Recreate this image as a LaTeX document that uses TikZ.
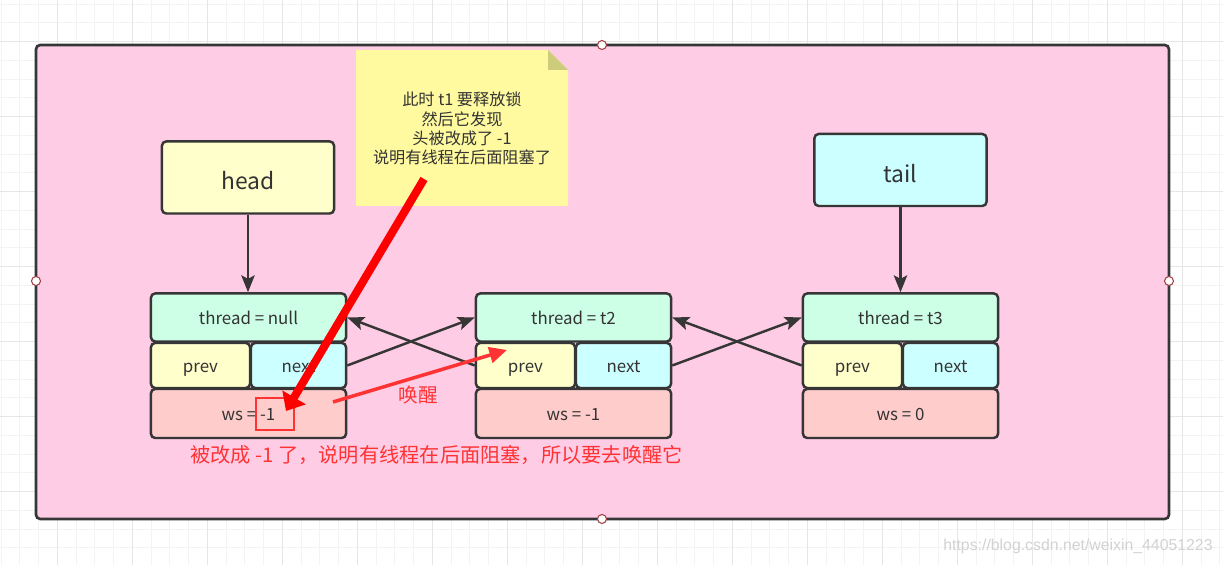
\documentclass[tikz,border=0pt]{standalone}
\usepackage{fontspec}
\usepackage{xcolor}
\setmainfont{Noto Sans CJK SC}
\newfontfamily\wmfont{Liberation Sans}
\usetikzlibrary{arrows.meta, calc}

\definecolor{pinkbg}{HTML}{FFCCE6}
\definecolor{linec}{HTML}{363636}
\definecolor{textc}{HTML}{333333}
\definecolor{yellowc}{HTML}{FFFFCC}
\definecolor{cyanc}{HTML}{CCFFFF}
\definecolor{mintc}{HTML}{CCFFE6}
\definecolor{rosec}{HTML}{FFCCCC}
\definecolor{notec}{HTML}{FFFA9F}
\definecolor{foldc}{HTML}{CCCC7A}
\definecolor{redt}{HTML}{FF3333}
\definecolor{gridminor}{HTML}{F3F3F3}
\definecolor{gridmajor}{HTML}{E6E6E6}
\definecolor{handlec}{HTML}{A04040}

\begin{document}
\begin{tikzpicture}[x=0.01cm, y=-0.01cm,
    cell/.style={draw=linec, line width=0.7pt, rounded corners=1.2pt, text=textc, inner sep=0pt, text height=0.7em, text depth=0.32em, font=\fontsize{4.8}{5.6}\selectfont},
    ptr/.style={cell, minimum width=1.72cm, minimum height=0.72cm, text height=0.8em, text depth=0.1em, font=\fontsize{6.5}{7.5}\selectfont},
    link/.style={draw=linec, line width=0.7pt, -{Stealth[length=4.8pt, width=3.8pt, inset=1pt]}},
    bigred/.style={draw=red, line width=2.3pt, -{Triangle[length=4.5pt, width=7.5pt]}},
    thinred/.style={draw=redt, line width=1pt, -{Triangle[length=5pt, width=4.5pt]}},
    redtxt/.style={text=redt, inner sep=0pt},
    handle/.style={draw=handlec, fill=white, line width=0.3pt}]
\useasboundingbox (0,0) rectangle (1223,565);
\fill[white] (0,0) rectangle (1223,565);
\foreach \gx in {0,...,65} \draw[gridminor, line width=0.25pt] ({1.05+18.75*\gx},0) -- ++(0,565);
\foreach \gy in {0,...,30} \draw[gridminor, line width=0.25pt] (0,{4.2+18.75*\gy}) -- ++(1223,0);
\foreach \gx in {0,...,15} \draw[gridmajor, line width=0.3pt] ({57.3+75*\gx},0) -- ++(0,565);
\foreach \gy in {0,...,6} \draw[gridmajor, line width=0.3pt] (0,{41.7+75*\gy}) -- ++(1223,0);

\draw[draw=linec, fill=pinkbg, line width=0.75pt, rounded corners=1.2pt] (36,45) rectangle (1169,519);

\fill[notec] (356,50) -- (548,50) -- (568,70) -- (568,206) -- (356,206) -- cycle;
\fill[foldc] (548,50) -- (568,70) -- (548,70) -- cycle;
\node[align=center, text=textc, inner sep=0pt, font=\fontsize{4.6}{5.45}\selectfont] (note) at (462,128.5)
    {此时 t1 要释放锁\\然后它发现\\头被改成了 -1\\说明有线程在后面阻塞了};

\node[ptr, fill=yellowc] (head) at (248,177.5) {head};
\node[ptr, fill=cyanc] (tail) at (900.5,170) {tail};

\node[cell, fill=mintc, minimum width=1.95cm, minimum height=0.48cm] (thread1) at (248.5,317.5) {thread = null};
\node[cell, fill=yellowc, minimum width=0.99cm, minimum height=0.45cm] (prev1) at (200.5,365.5) {prev};
\node[cell, fill=cyanc, minimum width=0.95cm, minimum height=0.45cm] (next1) at (298.5,365.5) {next};
\node[cell, fill=rosec, minimum width=1.95cm, minimum height=0.49cm] (ws1) at (248.5,413.5) {ws = -1};

\node[cell, fill=mintc, minimum width=1.95cm, minimum height=0.48cm] (thread2) at (573.5,317.5) {thread = t2};
\node[cell, fill=yellowc, minimum width=0.99cm, minimum height=0.45cm] (prev2) at (525.5,365.5) {prev};
\node[cell, fill=cyanc, minimum width=0.95cm, minimum height=0.45cm] (next2) at (623.5,365.5) {next};
\node[cell, fill=rosec, minimum width=1.95cm, minimum height=0.49cm] (ws2) at (573.5,413.5) {ws = -1};

\node[cell, fill=mintc, minimum width=1.95cm, minimum height=0.48cm] (thread3) at (900.5,317.5) {thread = t3};
\node[cell, fill=yellowc, minimum width=0.99cm, minimum height=0.45cm] (prev3) at (852.5,365.5) {prev};
\node[cell, fill=cyanc, minimum width=0.95cm, minimum height=0.45cm] (next3) at (950.5,365.5) {next};
\node[cell, fill=rosec, minimum width=1.95cm, minimum height=0.49cm] (ws3) at (900.5,413.5) {ws = 0};

\draw[link] (head.south) -- (thread1.north -| head.south);
\draw[link] (tail.south) -- (thread3.north -| tail.south);
\draw[link] (next1.east) -- (thread2.west);
\draw[link] (prev2.west) -- (thread1.east);
\draw[link] (next2.east) -- (thread3.west);
\draw[link] (prev3.west) -- (thread2.east);

\node[draw=redt, line width=0.4pt, minimum width=0.38cm, minimum height=0.32cm, inner sep=0pt] (mark) at (275,414) {};

\coordinate (hintfrom) at (424,179);
\coordinate (hintto) at (286,411);
\draw[bigred] (hintfrom) -- (hintto);

\coordinate (wakefrom) at (333,402);
\coordinate (waketo) at (507,350);
\draw[thinred] (wakefrom) -- (waketo);
\node[redtxt, font=\fontsize{5.6}{6}\selectfont] (wake) at (418,395) {唤醒};

\node[redtxt, font=\fontsize{5.75}{6.5}\selectfont] (remark) at (436.5,455)
    {被改成 -1 了，说明有线程在后面阻塞，所以要去唤醒它};

\node[text=gray!35, inner sep=0pt, font=\wmfont\fontsize{4.5}{5.4}\selectfont] (wm) at (1078,546)
    {https://blog.csdn.net/weixin\_44051223};

\foreach \hx/\hy in {602/45, 36/281, 1169/281, 602/519}
    \draw[handle] (\hx,\hy) circle (0.045cm);
\end{tikzpicture}
\end{document}
